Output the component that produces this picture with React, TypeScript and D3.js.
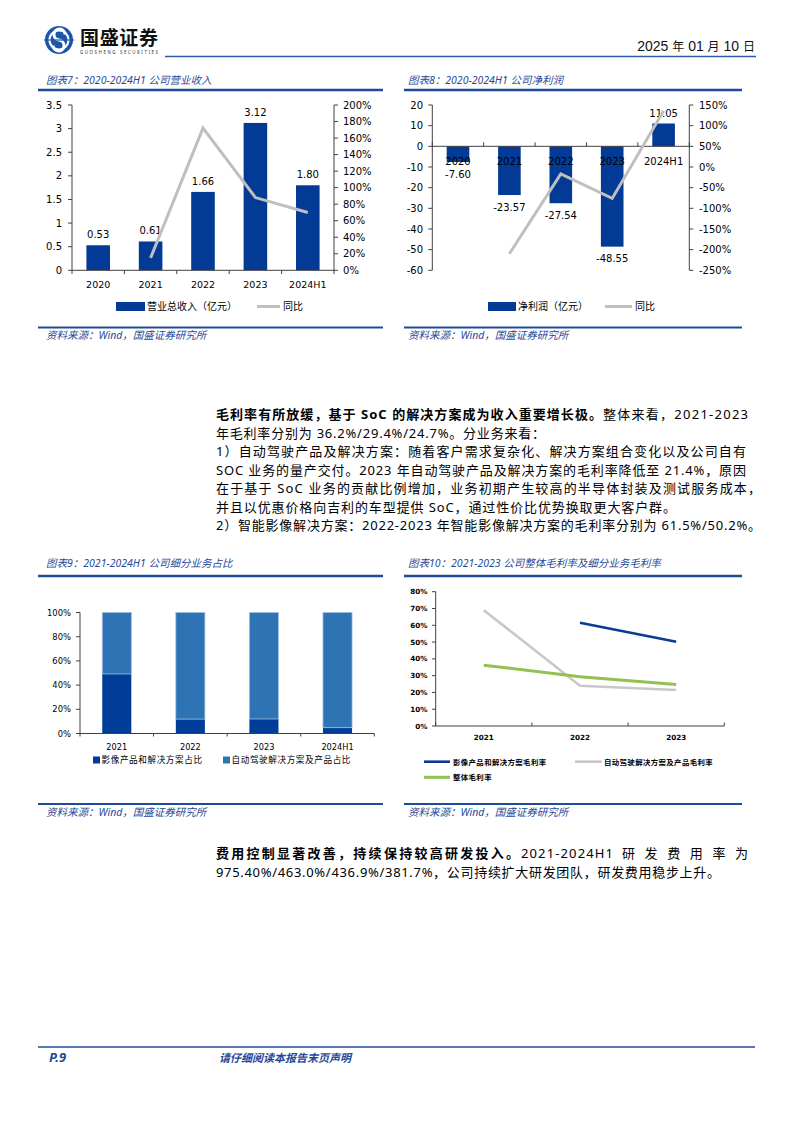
import React from 'react';
import * as d3 from 'd3';

// ---------- data ----------
const revCats = ['2020', '2021', '2022', '2023', '2024H1'];
const revenue = [0.53, 0.61, 1.66, 3.12, 1.8];
const revenueLabels = ['0.53', '0.61', '1.66', '3.12', '1.80'];
const revYoy: (number | null)[] = [null, 15, 172, 88, 70];
const revLeftTicks = [0, 0.5, 1, 1.5, 2, 2.5, 3, 3.5];
const revRightTicks = [0, 20, 40, 60, 80, 100, 120, 140, 160, 180, 200];

const profitCats = ['2020', '2021', '2022', '2023', '2024H1'];
const profit = [-7.6, -23.57, -27.54, -48.55, 11.05];
const profitLabels = ['-7.60', '-23.57', '-27.54', '-48.55', '11.05'];
const profitYoy: (number | null)[] = [null, -210, -17, -76, 136];
const profitLeftTicks = [-60, -50, -40, -30, -20, -10, 0, 10, 20];
const profitRightTicks = [-250, -200, -150, -100, -50, 0, 50, 100, 150];

const mixCats = ['2021', '2022', '2023', '2024H1'];
const imagingShare = [49.2, 11.9, 12.0, 4.8];
const autoShare = [50.8, 88.1, 88.0, 95.2];
const mixTicks = [0, 20, 40, 60, 80, 100];

const gmCats = ['2021', '2022', '2023'];
const gmImaging: (number | null)[] = [null, 61.5, 50.2];
const gmAuto: (number | null)[] = [69.0, 24.0, 21.4];
const gmTotal: (number | null)[] = [36.2, 29.4, 24.7];
const gmTicks = [0, 10, 20, 30, 40, 50, 60, 70, 80];

// ---------- styles ----------
const CF = "'DejaVu Sans','Noto Sans CJK SC',sans-serif";
const BF = "'Noto Sans','Noto Sans CJK SC',sans-serif";
const CJK = "'Noto Sans CJK SC',sans-serif";
const BLUE = '#1F4A98';
const BAR = '#023A96';
const AX = '#404040';
const GRAY = '#BFBFBF';

function RevenueChart() {
  const x = d3.scaleBand<string>().domain(revCats).range([72, 334]);
  const yL = d3.scaleLinear().domain([0, 3.5]).range([270.3, 105]);
  const yR = d3.scaleLinear().domain([0, 200]).range([270.3, 105]);
  const bw = x.bandwidth() * 0.45;
  const cx = (c: string) => (x(c) as number) + x.bandwidth() / 2;
  const pts = revCats.map((c, i) => [c, revYoy[i]] as [string, number | null]);
  const line = d3
    .line<[string, number | null]>()
    .defined((d) => d[1] != null)
    .x((d) => cx(d[0]))
    .y((d) => yR(d[1] as number));
  const bounds = revCats.map((c) => x(c) as number).concat([334]);
  return (
    <g fontFamily={CF}>
      {revCats.map((c, i) => (
        <rect key={c} x={cx(c) - bw / 2} y={yL(revenue[i])} width={bw} height={yL(0) - yL(revenue[i])} fill={BAR} />
      ))}
      {revCats.map((c, i) => (
        <text key={c} x={cx(c)} y={yL(revenue[i]) - 7} fontSize={10} textAnchor="middle" fill="#000">
          {revenueLabels[i]}
        </text>
      ))}
      <path d={line(pts) || ''} fill="none" stroke={GRAY} strokeWidth={3} />
      <line x1={72} x2={72} y1={105} y2={270.3} stroke={AX} />
      {revLeftTicks.map((t) => (
        <g key={t}>
          <line x1={68} x2={72} y1={yL(t)} y2={yL(t)} stroke={AX} />
          <text x={62} y={yL(t) + 3.6} fontSize={10} textAnchor="end">
            {String(t)}
          </text>
        </g>
      ))}
      <line x1={334} x2={334} y1={105} y2={270.3} stroke={AX} />
      {revRightTicks.map((t) => (
        <g key={t}>
          <line x1={334} x2={338} y1={yR(t)} y2={yR(t)} stroke={AX} />
          <text x={343} y={yR(t) + 3.6} fontSize={10}>
            {t}%
          </text>
        </g>
      ))}
      <line x1={72} x2={334} y1={270.3} y2={270.3} stroke={AX} />
      {bounds.map((b, i) => (
        <line key={i} x1={b} x2={b} y1={270.3} y2={274} stroke={AX} />
      ))}
      {revCats.map((c) => (
        <text key={c} x={cx(c)} y={288} fontSize={9.5} textAnchor="middle">
          {c}
        </text>
      ))}
      <rect x={116} y={302} width={29} height={9} fill={BAR} />
      <text x={147} y={310} fontSize={10} fontFamily={CJK}>
        营业总收入（亿元）
      </text>
      <line x1={257} x2={280} y1={306.5} y2={306.5} stroke={GRAY} strokeWidth={3} />
      <text x={283} y={310} fontSize={10} fontFamily={CJK}>
        同比
      </text>
    </g>
  );
}

function ProfitChart() {
  const x = d3.scaleBand<string>().domain(profitCats).range([432.3, 689.3]);
  const yL = d3.scaleLinear().domain([-60, 20]).range([270.3, 105]);
  const yR = d3.scaleLinear().domain([-250, 150]).range([270.3, 105]);
  const bw = x.bandwidth() * 0.44;
  const cx = (c: string) => (x(c) as number) + x.bandwidth() / 2;
  const pts = profitCats.map((c, i) => [c, profitYoy[i]] as [string, number | null]);
  const line = d3
    .line<[string, number | null]>()
    .defined((d) => d[1] != null)
    .x((d) => cx(d[0]))
    .y((d) => yR(d[1] as number));
  const bounds = profitCats.map((c) => x(c) as number).concat([689.3]);
  const y0 = yL(0);
  return (
    <g fontFamily={CF}>
      {profitCats.map((c, i) => (
        <rect
          key={c}
          x={cx(c) - bw / 2}
          y={Math.min(yL(profit[i]), y0)}
          width={bw}
          height={Math.abs(yL(profit[i]) - y0)}
          fill={BAR}
        />
      ))}
      <line x1={432.3} x2={689.3} y1={y0} y2={y0} stroke={AX} />
      {bounds.map((b, i) => (
        <line key={i} x1={b} x2={b} y1={y0 - 4} y2={y0} stroke={AX} />
      ))}
      {profitCats.map((c) => (
        <text key={c} x={cx(c)} y={y0 + 19} fontSize={10} textAnchor="middle">
          {c}
        </text>
      ))}
      {profitCats.map((c, i) => (
        <text
          key={c}
          x={cx(c)}
          y={profit[i] < 0 ? yL(profit[i]) + 15.5 : yL(profit[i]) - 6.5}
          fontSize={10}
          textAnchor="middle"
        >
          {profitLabels[i]}
        </text>
      ))}
      <path d={line(pts) || ''} fill="none" stroke={GRAY} strokeWidth={3} />
      <line x1={432.3} x2={432.3} y1={105} y2={270.3} stroke={AX} />
      {profitLeftTicks.map((t) => (
        <g key={t}>
          <line x1={428.3} x2={432.3} y1={yL(t)} y2={yL(t)} stroke={AX} />
          <text x={423} y={yL(t) + 3.6} fontSize={10} textAnchor="end">
            {t}
          </text>
        </g>
      ))}
      <line x1={689.3} x2={689.3} y1={105} y2={270.3} stroke={AX} />
      {profitRightTicks.map((t) => (
        <g key={t}>
          <line x1={689.3} x2={693.3} y1={yR(t)} y2={yR(t)} stroke={AX} />
          <text x={699} y={yR(t) + 3.6} fontSize={10}>
            {t}%
          </text>
        </g>
      ))}
      <rect x={488} y={302} width={28} height={9} fill={BAR} />
      <text x={518} y={310} fontSize={10} fontFamily={CJK}>
        净利润（亿元）
      </text>
      <line x1={605} x2={632} y1={306.5} y2={306.5} stroke={GRAY} strokeWidth={3} />
      <text x={635} y={310} fontSize={10} fontFamily={CJK}>
        同比
      </text>
    </g>
  );
}

function MixChart() {
  const x = d3.scaleBand<string>().domain(mixCats).range([80, 374.3]);
  const y = d3.scaleLinear().domain([0, 100]).range([733.5, 612.5]);
  const bw = x.bandwidth() * 0.395;
  const cx = (c: string) => (x(c) as number) + x.bandwidth() / 2;
  const bounds = mixCats.map((c) => x(c) as number).concat([374.3]);
  const DARK = '#003D98';
  const LIGHT = '#2E74B5';
  const EDGE = '#9DBFE3';
  return (
    <g fontFamily={CF}>
      {mixCats.map((c, i) => (
        <g key={c}>
          <rect x={cx(c) - bw / 2} y={y(imagingShare[i])} width={bw} height={y(0) - y(imagingShare[i])} fill={DARK} />
          <rect
            x={cx(c) - bw / 2}
            y={y(imagingShare[i] + autoShare[i])}
            width={bw}
            height={y(imagingShare[i]) - y(imagingShare[i] + autoShare[i])}
            fill={LIGHT}
            stroke={EDGE}
            strokeWidth={0.8}
          />
        </g>
      ))}
      <line x1={80} x2={80} y1={612.5} y2={733.5} stroke={AX} />
      {mixTicks.map((t) => (
        <g key={t}>
          <line x1={76} x2={80} y1={y(t)} y2={y(t)} stroke={AX} />
          <text x={71} y={y(t) + 3} fontSize={8.4} textAnchor="end">
            {t}%
          </text>
        </g>
      ))}
      <line x1={80} x2={374.3} y1={733.5} y2={733.5} stroke={AX} />
      {bounds.map((b, i) => (
        <line key={i} x1={b} x2={b} y1={733.5} y2={736.5} stroke={AX} />
      ))}
      {mixCats.map((c) => (
        <text key={c} x={cx(c)} y={749.5} fontSize={8.2} textAnchor="middle">
          {c}
        </text>
      ))}
      <rect x={93} y={756.5} width={7} height={7} fill={DARK} />
      <text x={101.5} y={763} fontSize={8.6} fontFamily={CJK} letterSpacing={0.6}>
        影像产品和解决方案占比
      </text>
      <rect x={223} y={756.5} width={7} height={7} fill={LIGHT} />
      <text x={231.5} y={763} fontSize={8.6} fontFamily={CJK} letterSpacing={0.6}>
        自动驾驶解决方案及产品占比
      </text>
    </g>
  );
}

function MarginChart() {
  const x = d3.scaleBand<string>().domain(gmCats).range([435.7, 724.3]);
  const y = d3.scaleLinear().domain([0, 80]).range([726, 591.7]);
  const cx = (c: string) => (x(c) as number) + x.bandwidth() / 2;
  const bounds = gmCats.map((c) => x(c) as number).concat([724.3]);
  const mk = (vals: (number | null)[]) =>
    d3
      .line<[string, number | null]>()
      .defined((d) => d[1] != null)
      .x((d) => cx(d[0]))
      .y((d) => y(d[1] as number))(gmCats.map((c, i) => [c, vals[i]] as [string, number | null])) || '';
  const NAVY = '#0B3C93';
  const LG = '#C8C8C8';
  const GREEN = '#92C052';
  return (
    <g fontFamily={CF}>
      <line x1={435.7} x2={435.7} y1={591.7} y2={726} stroke={AX} />
      {gmTicks.map((t) => (
        <g key={t}>
          <line x1={432} x2={435.7} y1={y(t)} y2={y(t)} stroke={AX} />
          <text x={427.5} y={y(t) + 2.6} fontSize={7.2} fontWeight="bold" textAnchor="end">
            {t}%
          </text>
        </g>
      ))}
      <line x1={435.7} x2={724.3} y1={726} y2={726} stroke={AX} />
      {bounds.map((b, i) => (
        <line key={i} x1={b} x2={b} y1={722.5} y2={726} stroke={AX} />
      ))}
      {gmCats.map((c) => (
        <text key={c} x={cx(c)} y={740} fontSize={7.2} fontWeight="bold" textAnchor="middle">
          {c}
        </text>
      ))}
      <path d={mk(gmAuto)} fill="none" stroke={LG} strokeWidth={2.6} />
      <path d={mk(gmImaging)} fill="none" stroke={NAVY} strokeWidth={2.6} />
      <path d={mk(gmTotal)} fill="none" stroke={GREEN} strokeWidth={3} />
      <line x1={424} x2={450} y1={761.7} y2={761.7} stroke={NAVY} strokeWidth={2.6} />
      <text x={453} y={764.5} fontSize={7.4} fontFamily={CJK} fontWeight="bold" letterSpacing={0.4}>
        影像产品和解决方案毛利率
      </text>
      <line x1={575} x2={601.7} y1={761.7} y2={761.7} stroke={LG} strokeWidth={2.6} />
      <text x={604} y={764.5} fontSize={7.4} fontFamily={CJK} fontWeight="bold" letterSpacing={0.4}>
        自动驾驶解决方案及产品毛利率
      </text>
      <line x1={424} x2={450} y1={777.3} y2={777.3} stroke={GREEN} strokeWidth={3} />
      <text x={453} y={780.1} fontSize={7.4} fontFamily={CJK} fontWeight="bold" letterSpacing={0.4}>
        整体毛利率
      </text>
    </g>
  );
}

// paragraph segments: text, bold flag, start x, fitted length
type Seg = { t: string; b?: boolean; x: number; len: number };
const para1: Seg[][] = [
  [
    { t: '毛利率有所放缓，基于 SoC 的解决方案成为收入重要增长极。', b: true, x: 216, len: 386 },
    { t: '整体来看，2021-2023', x: 603, len: 145 },
  ],
  [{ t: '年毛利率分别为 36.2%/29.4%/24.7%。分业务来看：', x: 216, len: 329 }],
  [{ t: '1）自动驾驶产品及解决方案：随着客户需求复杂化、解决方案组合变化以及公司自有', x: 216, len: 530 }],
  [{ t: 'SOC 业务的量产交付。2023 年自动驾驶产品及解决方案的毛利率降低至 21.4%，原因', x: 216, len: 530 }],
  [{ t: '在于基于 SoC 业务的贡献比例增加，业务初期产生较高的半导体封装及测试服务成本，', x: 216, len: 545 }],
  [{ t: '并且以优惠价格向吉利的车型提供 SoC，通过性价比优势换取更大客户群。', x: 216, len: 460 }],
  [{ t: '2）智能影像解决方案：2022-2023 年智能影像解决方案的毛利率分别为 61.5%/50.2%。', x: 216, len: 545 }],
];
const para2: Seg[][] = [
  [
    { t: '费用控制显著改善，持续保持较高研发投入。', b: true, x: 216, len: 303 },
    { t: '2021-2024H1', x: 521, len: 92 },
    { t: '研发费用率为', x: 622, len: 126 },
  ],
  [{ t: '975.40%/463.0%/436.9%/381.7%，公司持续扩大研发团队，研发费用稳步上升。', x: 216, len: 504 }],
];

function Para({ lines, y0, step }: { lines: Seg[][]; y0: number; step: number }) {
  return (
    <g fontFamily={BF} fontSize={13} fill="#000">
      {lines.map((segs, i) =>
        segs.map((s, j) => (
          <text
            key={i + '-' + j}
            x={s.x}
            y={y0 + i * step}
            textLength={s.len}
            lengthAdjust="spacing"
            fontWeight={s.b ? 'bold' : 'normal'}
          >
            {s.t}
          </text>
        ))
      )}
    </g>
  );
}

function Panel({ x1, x2, title, tx, ty, lineTop, lineBottom, sy }: any) {
  return (
    <g>
      <text x={tx} y={ty} fontSize={10.5} fontStyle="italic" fill={BLUE} fontFamily={BF}>
        {title}
      </text>
      <line x1={x1} x2={x2} y1={lineTop} y2={lineTop} stroke={BLUE} strokeWidth={2.5} />
      <line x1={x1} x2={x2} y1={lineBottom} y2={lineBottom} stroke={BLUE} strokeWidth={2} />
      <text x={tx} y={sy} fontSize={10.5} fontStyle="italic" fill={BLUE} fontFamily={BF}>
        资料来源：Wind，国盛证券研究所
      </text>
    </g>
  );
}

export default function App() {
  return (
    <svg
      width={794}
      height={1123}
      viewBox="0 0 794 1123"
      style={{ position: 'absolute', left: 0, top: 0, background: '#fff' }}
    >
      <rect x={0} y={0} width={794} height={1123} fill="#fff" />
      {/* header logo */}
      <circle cx={59} cy={40} r={14} fill="#1D56A8" />
      <circle cx={59} cy={40} r={9.5} fill="none" stroke="#fff" strokeWidth={2.2} />
      <path d="M 65 34.5 A 5.5 5.5 0 1 0 59 40 A 5.5 5.5 0 1 1 53 45.5" fill="none" stroke="#fff" strokeWidth={3} />
      <line x1={44} x2={74} y1={40} y2={40} stroke="#1D56A8" strokeWidth={1.2} />
      <text x={80} y={44.5} fontSize={19} fontWeight="bold" fontFamily={CJK} fill="#111" textLength={78} lengthAdjust="spacing">
        国盛证券
      </text>
      <text x={80} y={54} fontSize={4.4} fontFamily={BF} fill="#333" textLength={78} lengthAdjust="spacing">
        GUOSHENG SECURITIES
      </text>
      <text
        x={755}
        y={50.5}
        fontSize={14}
        textAnchor="end"
        fill="#111"
        fontFamily="'Liberation Sans Narrow','Liberation Sans','Noto Sans CJK SC',sans-serif"
      >
        2025 <tspan fontSize={12}>年</tspan> 01 <tspan fontSize={12}>月</tspan> 10 <tspan fontSize={12}>日</tspan>
      </text>
      <line x1={165} x2={756} y1={56.5} y2={56.5} stroke="#2F5CA8" strokeWidth={1.6} />

      <Panel x1={38} x2={383} title="图表7：2020-2024H1 公司营业收入" tx={46} ty={84} lineTop={90} lineBottom={327.5} sy={339} />
      <Panel x1={404} x2={742} title="图表8：2020-2024H1 公司净利润" tx={408} ty={84} lineTop={90} lineBottom={327.5} sy={339} />
      <RevenueChart />
      <ProfitChart />

      <Para lines={para1} y0={419} step={18.5} />

      <Panel x1={38} x2={383} title="图表9：2021-2024H1 公司细分业务占比" tx={46} ty={567} lineTop={576} lineBottom={804} sy={816} />
      <Panel x1={404} x2={742} title="图表10：2021-2023 公司整体毛利率及细分业务毛利率" tx={408} ty={567} lineTop={576} lineBottom={804} sy={816} />
      <MixChart />
      <MarginChart />

      <Para lines={para2} y0={858} step={18.5} />

      {/* footer */}
      <line x1={38} x2={755} y1={1047} y2={1047} stroke={BLUE} strokeWidth={1.6} />
      <text x={49} y={1062} fontSize={13} fontWeight="bold" fontStyle="italic" fill={BLUE} fontFamily={BF}>
        P.9
      </text>
      <text x={219} y={1062} fontSize={11} fontWeight="bold" fontStyle="italic" fill={BLUE} fontFamily={CJK}>
        请仔细阅读本报告末页声明
      </text>
    </svg>
  );
}
